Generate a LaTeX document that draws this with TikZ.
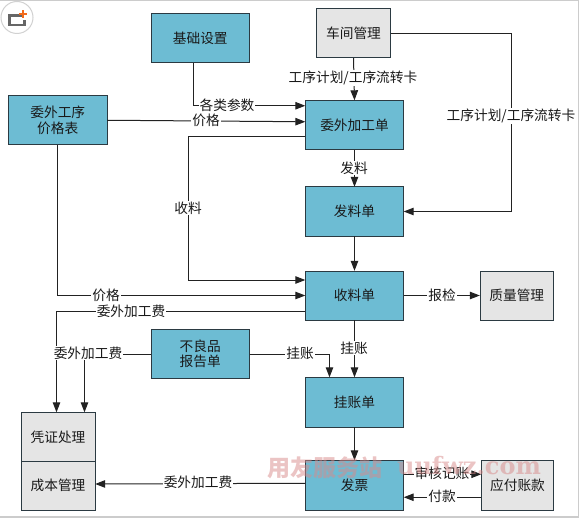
\documentclass[tikz,border=0pt]{standalone}
\usepackage{fontspec}
\setmainfont{Noto Sans CJK SC}
\newfontfamily\wmfont{DejaVu Serif}
\usetikzlibrary{arrows.meta,calc}
\definecolor{boxblue}{HTML}{6DBCD3}
\definecolor{boxgray}{HTML}{E5E5E5}
\definecolor{edgedark}{HTML}{2B3A42}
\definecolor{linedark}{HTML}{222222}
\definecolor{wmpink}{HTML}{D98A8A}
\definecolor{logoorange}{HTML}{F26A1B}
\tikzset{
  x=1bp,y=-1bp,
  every node/.style={font=\fontsize{13.7bp}{15.5bp}\selectfont,text=black!90,inner sep=0pt,align=center},
  bluebox/.style={draw=edgedark,line width=1bp,fill=boxblue},
  graybox/.style={draw=edgedark,line width=1bp,fill=boxgray},
  conn/.style={draw=linedark,line width=1bp,-{Triangle[length=10bp,width=7.5bp]}},
  lab/.style={fill=white,inner xsep=1bp,inner ysep=0.5bp},
  frameline/.style={draw=black!20,line width=1.5bp},
}
\newcommand{\boxnode}[7]{%
  \path[#1] (#3,#4) rectangle (#5,#6);
  \node (#2) at ({(#3+#5)/2},{(#4+#6)/2}) [minimum width={(#5-#3)*1bp},minimum height={(#6-#4)*1bp}] {#7};}
\begin{document}
\begin{tikzpicture}
\useasboundingbox (0,0) rectangle (583,520);
\fill[white] (0,0) rectangle (583,520);
\draw[frameline] (0,0.7) -- (578.5,0.7) -- (578.5,517) -- (0,517);
% logo
\node (logo) at (17,17.5) [circle,draw=black!18,line width=1bp,fill=white,minimum size=32bp] {};
\draw[black!60,line width=2.6bp] (23,15.5) -- (9.5,15.5) -- (9.5,25) -- (24.5,25) -- (24.5,20);
\fill[logoorange] (21.8,10) rectangle (24.2,18.5);
\fill[logoorange] (18.8,13) rectangle (27.2,15.5);
% boxes
\boxnode{bluebox}{jc}{151}{13.5}{249.5}{63}{基础设置}
\boxnode{bluebox}{jg}{8.5}{95.5}{107}{145}{委外工序\\价格表}
\boxnode{graybox}{cj}{316.5}{8.5}{390.5}{58}{车间管理}
\boxnode{bluebox}{wj}{305.5}{100.5}{403.5}{150}{委外加工单}
\boxnode{bluebox}{fl}{305.5}{187}{403.5}{236}{发料单}
\boxnode{bluebox}{sl}{305.5}{271}{403.5}{320}{收料单}
\boxnode{graybox}{zl}{480}{271}{553.5}{320}{质量管理}
\boxnode{bluebox}{bl}{151}{329.5}{249.5}{378.5}{不良品\\报告单}
\boxnode{bluebox}{gz}{305.5}{377.5}{403.5}{427}{挂账单}
\boxnode{bluebox}{fp}{305.5}{460.5}{403.5}{510}{发票}
\boxnode{graybox}{yf}{481.5}{460.5}{553.5}{510}{应付账款}
\boxnode{graybox}{pz}{21}{412.5}{95}{461.5}{凭证处理}
\boxnode{graybox}{cb}{21}{461.5}{95}{510}{成本管理}
% connectors
\draw[conn] ([xshift=-7bp]jc.south) |- ([yshift=19.5bp]wj.west);
\draw[conn] (jg.east) -- ([yshift=3.5bp]wj.west);
\draw[conn] ([yshift=-11.5bp]wj.west) -- ++(-117,0) |- ([yshift=15.5bp]sl.west);
\draw[conn] (jg.south) |- (sl.west);
\draw[conn] ([yshift=-15.5bp]sl.west) -| ([xshift=-1.5bp]pz.north);
\draw[conn] (bl.west) -| ([xshift=26.5bp]pz.north);
\draw[conn] (bl.east) -| ([xshift=-25bp]gz.north);
\draw[conn] (sl.south) -- (gz.north);
\draw[conn] (gz.south) -- (fp.north);
\draw[conn] ([yshift=2bp]fp.west) -- ([yshift=1.75bp]cb.east);
\draw[conn] ([yshift=11bp]fp.east) -- ([yshift=11bp]yf.west);
\draw[conn] ([yshift=-12bp]yf.west) -- ([yshift=-12bp]fp.east);
\draw[conn] (sl.east) -- (zl.west);
\draw[conn] (wj.south) -- (fl.north);
\draw[conn] (fl.south) -- (sl.north);
\draw[conn] (cj.south) -- (wj.north);
\draw[conn] (cj.east) -- ++(121,0) |- (fl.east);
% labels
\node[lab] (l1) at (227,105) {各类参数};
\node[lab] (l2) at (206,120) {价格};
\node[lab] (l3) at (188,208) {收料};
\node[lab] (l4) at (106,295) {价格};
\node[lab] (l5) at (131,311) {委外加工费};
\node[lab] (l6) at (88,353) {委外加工费};
\node[lab] (l7) at (300,353) {挂账};
\node[lab] (l8) at (354,348) {挂账};
\node[lab] (l9) at (198,482) {委外加工费};
\node[lab] (l10) at (442,473) {审核记账};
\node[lab] (l11) at (442,496) {付款};
\node[lab] (l12) at (442,295) {报检};
\node[lab] (l13) at (354,168) {发料};
\node[lab] (l14) at (353,78) {工序计划/工序流转卡};
\node[lab] (l15) at (511,116) {工序计划/工序流转卡};
% watermark
\node[text=wmpink,opacity=.5,font=\fontsize{23bp}{26bp}\bfseries\selectfont] (wm1) at (325,468) {用友服务站};
\node[text=wmpink,opacity=.5,font=\fontsize{24bp}{26bp}\wmfont\bfseries\selectfont] (wm2) at (469,466) {uufwz.com};
\end{tikzpicture}
\end{document}
